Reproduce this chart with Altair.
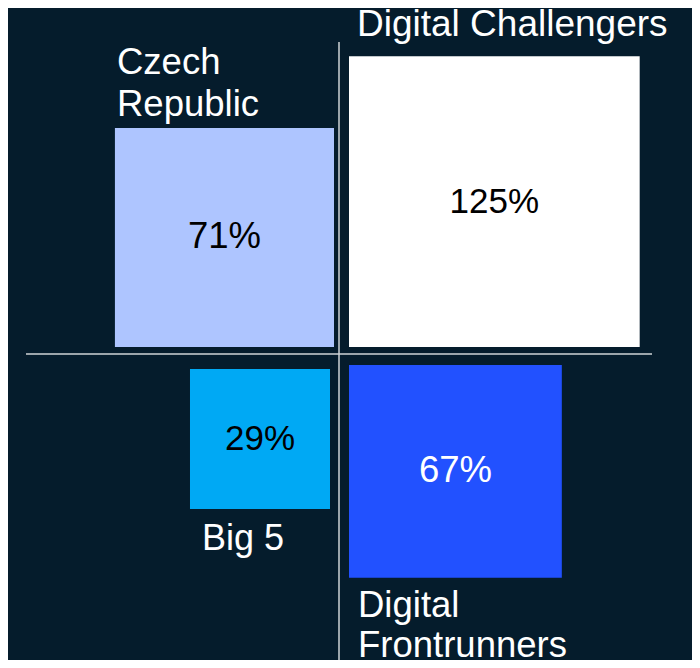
import altair as alt
import pandas as pd
import numpy as np

# ---- data ----
segments = ["Czech Republic", "Digital Challengers", "Big 5", "Digital Frontrunners"]
values = [71, 125, 29, 67]
value_labels = ["71%", "125%", "29%", "67%"]
segment_labels = ["Czech\nRepublic", "Digital Challengers", "Big 5", "Digital\nFrontrunners"]

# ---- styles ----
BG = "#051c2c"
fills = ["#aec5ff", "#ffffff", "#00a9f4", "#2251ff"]
text_colors = ["#000000", "#000000", "#000000", "#ffffff"]
pct_font_sizes = [36.5, 35, 35, 36.5]
name_font_sizes = [36.5, 37, 36, 36.5]
LINE_COLOR = "#cfd3d6"
FONT = "Liberation Sans"

# ---- layout (pixel-like units, origin at the cross, y up) ----
K = 26.0  # side = K * sqrt(value): square area proportional to value
quad_sign = [(-1, 1), (1, 1), (-1, -1), (1, -1)]
gaps = [(5, 7), (10, 7), (9, 15), (10, 11)]
label_pos = [(-222, 280), (18, 318), (-137, -196), (19, -263)]
line_steps = [42, 0, 0, 40]
X_DOM = [-331, 353]
Y_DOM = [-306, 346]
W, H = 684, 652

rows = []
name_rows = []
for i, (seg, v, vl, sl) in enumerate(zip(segments, values, value_labels, segment_labels)):
    sx, sy = quad_sign[i]
    gx, gy = gaps[i]
    side = K * np.sqrt(v)
    xa, xb = sx * gx, sx * (gx + side)
    ya, yb = sy * gy, sy * (gy + side)
    rows.append(dict(segment=seg, value=v, vlabel=vl, fs=pct_font_sizes[i],
                     x=min(xa, xb), x2=max(xa, xb), y=min(ya, yb), y2=max(ya, yb),
                     cx=(xa + xb) / 2, cy=(ya + yb) / 2))
    lx, ly = label_pos[i]
    for j, line in enumerate(sl.split("\n")):
        name_rows.append(dict(segment=seg, text=line, fs=name_font_sizes[i],
                              lx=lx, ly=ly - j * line_steps[i]))
df = pd.DataFrame(rows)
names_df = pd.DataFrame(name_rows)

xs = alt.Scale(domain=X_DOM, nice=False, zero=False)
ys = alt.Scale(domain=Y_DOM, nice=False, zero=False)
fill_scale = alt.Scale(domain=segments, range=fills)
tcol_scale = alt.Scale(domain=segments, range=text_colors)

base = alt.Chart(df)

squares = base.mark_rect(strokeWidth=0).encode(
    x=alt.X("x:Q", scale=xs, axis=None),
    x2="x2:Q",
    y=alt.Y("y:Q", scale=ys, axis=None),
    y2="y2:Q",
    color=alt.Color("segment:N", scale=fill_scale, legend=None),
)

pct = base.mark_text(font=FONT, align="center", baseline="middle").encode(
    x=alt.X("cx:Q", scale=xs, axis=None),
    y=alt.Y("cy:Q", scale=ys, axis=None),
    text="vlabel:N",
    size=alt.Size("fs:Q", scale=None, legend=None),
    color=alt.Color("segment:N", scale=tcol_scale, legend=None),
)

names = alt.Chart(names_df).mark_text(font=FONT, align="left", baseline="alphabetic",
                                      color="#ffffff").encode(
    x=alt.X("lx:Q", scale=xs, axis=None),
    y=alt.Y("ly:Q", scale=ys, axis=None),
    text="text:N",
    size=alt.Size("fs:Q", scale=None, legend=None),
)

lines_df = pd.DataFrame({
    "x": [0, -313], "x2": [0, 313],
    "y": [312, 0], "y2": [Y_DOM[0], 0],
})
cross = alt.Chart(lines_df).mark_rule(color=LINE_COLOR, strokeWidth=1.5).encode(
    x=alt.X("x:Q", scale=xs, axis=None),
    x2="x2:Q",
    y=alt.Y("y:Q", scale=ys, axis=None),
    y2="y2:Q",
)

chart = alt.layer(cross, squares, pct, names).resolve_scale(color="independent").properties(
    width=W, height=H, padding=0, autosize="none", background=BG
).configure_view(stroke=None)

chart.save("out.html", embed_options={"renderer": "svg", "actions": False})
